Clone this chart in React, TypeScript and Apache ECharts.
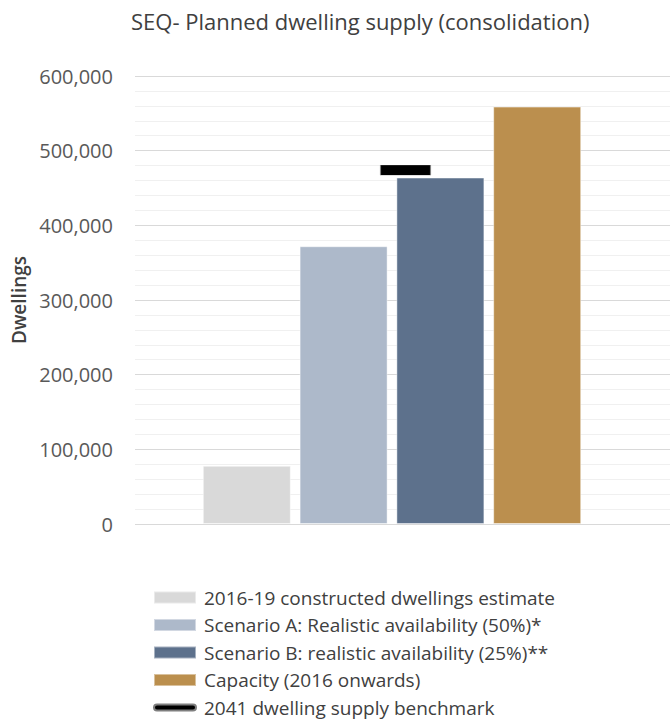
import React, { useEffect, useRef } from "react";
import * as echarts from "echarts";

// Dwelling supply figures for South East Queensland
const seriesNames = [
  "2016-19 constructed dwellings estimate",
  "Scenario A: Realistic availability (50%)*",
  "Scenario B: realistic availability (25%)**",
  "Capacity (2016 onwards)",
];
const seriesValues = [78000, 372000, 464000, 559000];
const seriesColors = ["#d9d9d9", "#adb9ca", "#5d718c", "#bb8f4e"];
const benchmarkName = "2041 dwelling supply benchmark";
const benchmarkValue = 474000;
const category = ["SEQ"];
const yTicks = { min: 0, max: 600000, interval: 100000 };

const FONT = "'Open Sans', 'Noto Sans', sans-serif";

export default function App() {
  const ref = useRef<HTMLDivElement>(null);

  useEffect(() => {
    if (!ref.current) return;
    const chart = echarts.init(ref.current, undefined, { renderer: "svg" });

    const barSeries = seriesNames.map((name, i) => ({
      name,
      type: "bar",
      xAxisIndex: 1,
      yAxisIndex: 1,
      data: [seriesValues[i]],
      barWidth: 88,
      barGap: "10%",
      itemStyle: {
        color: seriesColors[i],
        borderColor: "rgba(255,255,255,0.45)",
        borderWidth: 1,
      },
    }));

    chart.setOption({
      animation: false,
      textStyle: { fontFamily: FONT },
      title: {
        text: "SEQ- Planned dwelling supply (consolidation)",
        left: 126,
        top: 5,
        textStyle: {
          fontFamily: FONT,
          fontSize: 22,
          fontWeight: "normal",
          color: "#404040",
        },
      },
      grid: [
        { left: 135, right: 0, top: 76, bottom: 200 },
        { left: 135, width: 514, top: 76, bottom: 200 },
      ],
      xAxis: [
        {
          type: "category",
          gridIndex: 0,
          data: category,
          axisLine: { show: false },
          axisTick: { show: false },
          axisLabel: { show: false },
        },
        {
          type: "category",
          gridIndex: 1,
          data: category,
          axisLine: { show: false },
          axisTick: { show: false },
          axisLabel: { show: false },
        },
      ],
      yAxis: [
        {
          type: "value",
          gridIndex: 0,
          min: yTicks.min,
          max: yTicks.max,
          interval: yTicks.interval,
          name: "Dwellings",
          nameLocation: "middle",
          nameGap: 101,
          nameTextStyle: { fontFamily: FONT, fontSize: 19, fontWeight: 600, color: "#404040" },
          axisLine: { show: false },
          axisTick: { show: false },
          axisLabel: {
            margin: 22,
            fontFamily: FONT,
            fontSize: 20,
            color: "#595959",
            formatter: (v: number) => v.toLocaleString("en-US"),
          },
          splitLine: { show: true, lineStyle: { color: "#d9d9d9", width: 1 } },
          minorTick: { show: false, splitNumber: 5 },
          minorSplitLine: { show: true, lineStyle: { color: "#f0f0f0", width: 1 } },
        },
        {
          type: "value",
          gridIndex: 1,
          min: yTicks.min,
          max: yTicks.max,
          interval: yTicks.interval,
          axisLine: { show: false },
          axisTick: { show: false },
          axisLabel: { show: false },
          splitLine: { show: false },
        },
      ],
      legend: {
        orient: "vertical",
        left: 153,
        top: 588,
        height: 140,
        padding: 0,
        itemWidth: 42,
        itemHeight: 12,
        itemGap: 8.5,
        textStyle: {
          fontFamily: FONT,
          fontSize: 19,
          lineHeight: 19,
          color: "#404040",
          padding: [0, 0, 0, 3],
        },
        data: [
          ...seriesNames.map((name) => ({ name, icon: "rect" })),
          {
            name: benchmarkName,
            icon: "path://M0,0M42,12M3,3H39A3,3 0 0 1 39,9H3A3,3 0 0 1 3,3Z",
            itemStyle: { color: "#000000", opacity: 1 },
          },
        ],
      },
      series: [
        ...barSeries,
        {
          name: benchmarkName,
          type: "scatter",
          xAxisIndex: 0,
          yAxisIndex: 0,
          data: [benchmarkValue],
          symbol: "rect",
          symbolSize: [50, 10],
          symbolOffset: [3, 0],
          itemStyle: { color: "#000000", opacity: 1, borderColor: "#7f7f7f", borderWidth: 0.5 },
          z: 5,
        },
      ],
    });

    return () => chart.dispose();
  }, []);

  return (
    <div
      ref={ref}
      style={{ position: "absolute", left: 0, top: 0, width: 670, height: 724, background: "#ffffff" }}
    />
  );
}
